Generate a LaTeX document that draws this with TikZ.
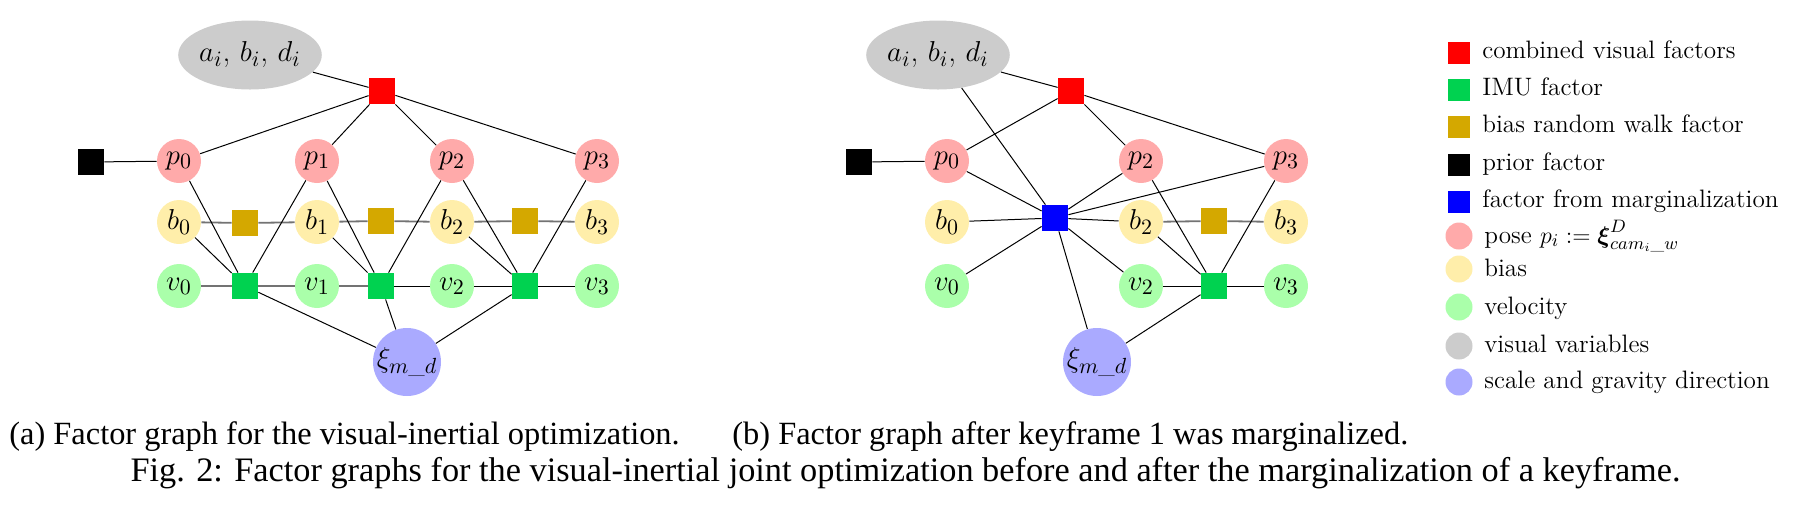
\documentclass[tikz,border=0pt]{standalone}
\usepackage{amsmath}
\usepackage{fontspec}
\newfontfamily\capfont{Liberation Serif}
\usetikzlibrary{shapes.geometric}
\definecolor{cRed}{RGB}{255,0,0}
\definecolor{cImu}{RGB}{0,210,80}
\definecolor{cBias}{RGB}{212,168,0}
\definecolor{cMarg}{RGB}{0,0,255}
\definecolor{cPose}{RGB}{255,170,170}
\definecolor{cBiasV}{RGB}{255,238,170}
\definecolor{cVel}{RGB}{170,255,170}
\definecolor{cVis}{RGB}{204,204,204}
\definecolor{cScale}{RGB}{170,170,255}
\tikzset{
 var/.style={circle, inner sep=0pt, minimum size=22pt, font=\fontsize{15.6}{18}\selectfont},
 pose/.style={var, fill=cPose},
 biasv/.style={var, fill=cBiasV},
 vel/.style={var, fill=cVel},
 visv/.style={ellipse, inner sep=0pt, minimum width=68.5pt, minimum height=34.5pt, fill=cVis, font=\fontsize{15.6}{18}\selectfont},
 scalev/.style={circle, inner sep=0pt, minimum size=34pt, fill=cScale, font=\fontsize{15.6}{18}\selectfont},
 fac/.style={rectangle, inner sep=0pt, minimum size=13pt},
 imuf/.style={fac, fill=cImu},
 biasf/.style={fac, fill=cBias},
 visf/.style={fac, fill=cRed},
 priorf/.style={fac, fill=black},
 margf/.style={fac, fill=cMarg},
 edge/.style={line width=0.5pt, black},
 gedge/.style={line width=0.9pt, black!55},
 lsq/.style={rectangle, inner sep=0pt, minimum size=11pt},
 lcirc/.style={circle, inner sep=0pt, minimum size=13.5pt},
 ltext/.style={anchor=west, inner sep=0pt, font=\rmfamily\fontsize{12.6}{15}\selectfont, text height=1.6ex, text depth=0.4ex},
 captext/.style={inner sep=0pt, font=\capfont\fontsize{16.2}{19}\selectfont, text height=1.6ex, text depth=0.4ex},
}
\begin{document}
\begin{tikzpicture}[x=0.5pt,y=-0.5pt]
\useasboundingbox (0,0) rectangle (1817,521);
% ---------- panel (a) ----------
\node[visv] (aV) at (250,55) {$a_i$, $b_i$, $d_i$};
\node[visf] (aR) at (382,91) {};
\node[priorf] (aK) at (91,162) {};
\node[pose] (ap0) at (179,161) {$p_0$};
\node[pose] (ap1) at (317,161) {$p_1$};
\node[pose] (ap2) at (452,161) {$p_2$};
\node[pose] (ap3) at (597,161) {$p_3$};
\node[biasv] (ab0) at (179,222) {$b_0$};
\node[biasv] (ab1) at (317,222) {$b_1$};
\node[biasv] (ab2) at (452,222) {$b_2$};
\node[biasv] (ab3) at (597,222) {$b_3$};
\node[vel] (av0) at (179,286) {$v_0$};
\node[vel] (av1) at (317,286) {$v_1$};
\node[vel] (av2) at (452,286) {$v_2$};
\node[vel] (av3) at (597,286) {$v_3$};
\node[biasf] (aB1) at (245,223) {};
\node[biasf] (aB2) at (381,221) {};
\node[biasf] (aB3) at (525,221) {};
\node[imuf] (aI1) at (245,286) {};
\node[imuf] (aI2) at (381,286) {};
\node[imuf] (aI3) at (525,286) {};
\node[scalev] (aX) at (407,362) {$\xi_{m\_d}$};
\draw[edge] (aV) -- (aR);
\draw[edge] (aR) -- (ap0);
\draw[edge] (aR) -- (ap1);
\draw[edge] (aR) -- (ap2);
\draw[edge] (aR) -- (ap3);
\draw[edge] (aK) -- (ap0);
\draw[gedge] (ab0) -- (aB1); \draw[gedge] (aB1) -- (ab1);
\draw[gedge] (ab1) -- (aB2); \draw[gedge] (aB2) -- (ab2);
\draw[gedge] (ab2) -- (aB3); \draw[gedge] (aB3) -- (ab3);
\draw[gedge] (av0) -- (aI1); \draw[gedge] (aI1) -- (av1); \draw[gedge] (av1) -- (aI2);
\draw[edge] (aI2) -- (av2); \draw[edge] (av2) -- (aI3); \draw[edge] (aI3) -- (av3);
\draw[edge] (ap0) -- (aI1); \draw[edge] (ab0) -- (aI1); \draw[edge] (ap1) -- (aI1);
\draw[edge] (ap1) -- (aI2); \draw[edge] (ab1) -- (aI2); \draw[edge] (ap2) -- (aI2);
\draw[edge] (ap2) -- (aI3); \draw[edge] (ab2) -- (aI3); \draw[edge] (ap3) -- (aI3);
\draw[edge] (aI1) -- (aX); \draw[edge] (aI2) -- (aX); \draw[edge] (aI3) -- (aX);
% ---------- panel (b) ----------
\node[visv] (bV) at (938,55) {$a_i$, $b_i$, $d_i$};
\node[visf] (bR) at (1071,91) {};
\node[priorf] (bK) at (859,162) {};
\node[pose] (bp0) at (947,161) {$p_0$};
\node[pose] (bp2) at (1141,161) {$p_2$};
\node[pose] (bp3) at (1286,161) {$p_3$};
\node[biasv] (bb0) at (947,222) {$b_0$};
\node[biasv] (bb2) at (1141,222) {$b_2$};
\node[biasv] (bb3) at (1286,222) {$b_3$};
\node[vel] (bv0) at (947,286) {$v_0$};
\node[vel] (bv2) at (1141,286) {$v_2$};
\node[vel] (bv3) at (1286,286) {$v_3$};
\node[margf] (bM) at (1055,218) {};
\node[biasf] (bB3) at (1214,221) {};
\node[imuf] (bI3) at (1214,286) {};
\node[scalev] (bX) at (1097,362) {$\xi_{m\_d}$};
\draw[edge] (bV) -- (bR);
\draw[edge] (bV) -- (bM);
\draw[edge] (bR) -- (bp0);
\draw[edge] (bR) -- (bp2);
\draw[edge] (bR) -- (bp3);
\draw[edge] (bK) -- (bp0);
\draw[edge] (bM) -- (bp0);
\draw[edge] (bM) -- (bb0);
\draw[edge] (bM) -- (bv0);
\draw[edge] (bM) -- (bp2);
\draw[edge] (bM) -- (bp3);
\draw[edge] (bM) -- (bb2);
\draw[edge] (bM) -- (bv2);
\draw[edge] (bM) -- (bX);
\draw[gedge] (bb2) -- (bB3); \draw[gedge] (bB3) -- (bb3);
\draw[edge] (bp2) -- (bI3); \draw[edge] (bb2) -- (bI3); \draw[edge] (bv2) -- (bI3);
\draw[edge] (bI3) -- (bv3); \draw[edge] (bp3) -- (bI3); \draw[edge] (bI3) -- (bX);
% ---------- legend ----------
\node[lsq, fill=cRed] (l1) at (1459,53) {};
\node[ltext] (t1) at (1482,53) {combined visual factors};
\node[lsq, fill=cImu] (l2) at (1459,90) {};
\node[ltext] (t2) at (1482,90) {IMU factor};
\node[lsq, fill=cBias] (l3) at (1459,127) {};
\node[ltext] (t3) at (1482,127) {bias random walk factor};
\node[lsq, fill=black] (l4) at (1459,165) {};
\node[ltext] (t4) at (1482,165) {prior factor};
\node[lsq, fill=cMarg] (l5) at (1459,202) {};
\node[ltext] (t5) at (1482,202) {factor from marginalization};
\node[lcirc, fill=cPose] (l6) at (1459,236) {};
\node[ltext] (t6) at (1484,238) {pose $p_i := \boldsymbol{\xi}^D_{cam_i\_w}$};
\node[lcirc, fill=cBiasV] (l7) at (1459,269) {};
\node[ltext] (t7) at (1484,271) {bias};
\node[lcirc, fill=cVel] (l8) at (1459,307) {};
\node[ltext] (t8) at (1484,309) {velocity};
\node[lcirc, fill=cVis] (l9) at (1459,346) {};
\node[ltext] (t9) at (1484,347) {visual variables};
\node[lcirc, fill=cScale] (l10) at (1459,382) {};
\node[ltext] (t10) at (1484,383) {scale and gravity direction};
% ---------- captions ----------
\node[captext, anchor=west] (capa) at (9,439) {(a) Factor graph for the visual-inertial optimization.};
\node[captext, anchor=west] (capb) at (732,439) {(b) Factor graph after keyframe 1 was marginalized.};
\node[captext, font=\capfont\fontsize{17.15}{20}\selectfont] (capf) at (905.5,476) {Fig. 2: Factor graphs for the visual-inertial joint optimization before and after the marginalization of a keyframe.};
\end{tikzpicture}
\end{document}
